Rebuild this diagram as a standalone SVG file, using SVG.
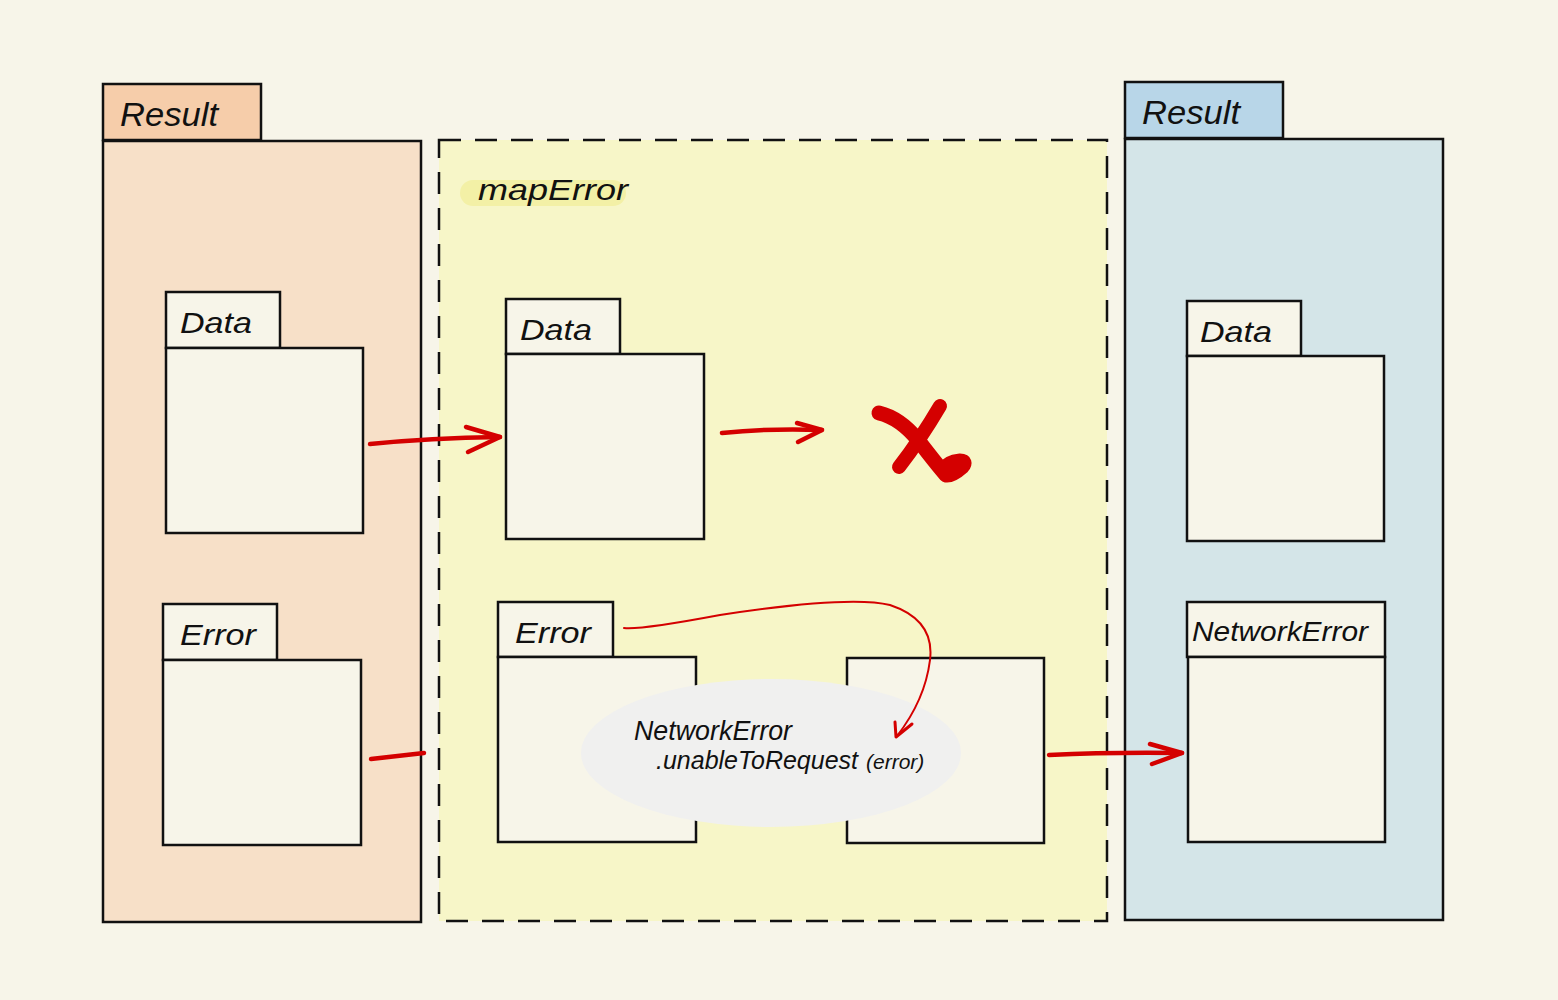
<svg xmlns="http://www.w3.org/2000/svg" width="1558" height="1000" viewBox="0 0 1558 1000">
<style>
.ln{stroke:#111;stroke-width:2.5;}
.box{fill:#f7f5e9;stroke:#111;stroke-width:2.5;}
.hw{font-family:"Liberation Sans",Arial,sans-serif;font-style:italic;fill:#111;}
.red{fill:none;stroke:#d40000;stroke-linecap:round;stroke-linejoin:round;}
</style>
<rect width="1558" height="1000" fill="#f7f5e9"/>

<g id="result-left">
<rect x="103" y="141" width="318" height="781" fill="#f7e0c8" class="ln"/>
<rect x="103" y="84" width="158" height="56" fill="#f6cdaa" class="ln"/>
<text class="hw" x="120" y="126" font-size="34" textLength="98" lengthAdjust="spacingAndGlyphs">Result</text>
</g>

<g id="maperror">
<rect x="439" y="140" width="668" height="781" fill="#f7f6c8" stroke="#111" stroke-width="2.5" stroke-dasharray="22,14"/>
<rect x="460" y="180" width="166" height="26" rx="13" fill="#f3f0a6"/>
<text class="hw" x="478" y="200" font-size="30" textLength="150" lengthAdjust="spacingAndGlyphs">mapError</text>
</g>

<g id="result-right">
<rect x="1125" y="139" width="318" height="781" fill="#d4e5e8" class="ln"/>
<rect x="1125" y="82" width="158" height="56" fill="#b8d6e8" class="ln"/>
<text class="hw" x="1142" y="124" font-size="34" textLength="98" lengthAdjust="spacingAndGlyphs">Result</text>
</g>

<g id="left-data">
<rect x="166" y="292" width="114" height="56" class="box"/>
<rect x="166" y="348" width="197" height="185" class="box"/>
<text class="hw" x="180" y="333" font-size="30" textLength="72" lengthAdjust="spacingAndGlyphs">Data</text>
</g>
<g id="left-error">
<rect x="163" y="604" width="114" height="56" class="box"/>
<rect x="163" y="660" width="198" height="185" class="box"/>
<text class="hw" x="180" y="645" font-size="30" textLength="76" lengthAdjust="spacingAndGlyphs">Error</text>
</g>

<g id="mid-data">
<rect x="506" y="299" width="114" height="55" class="box"/>
<rect x="506" y="354" width="198" height="185" class="box"/>
<text class="hw" x="520" y="340" font-size="30" textLength="72" lengthAdjust="spacingAndGlyphs">Data</text>
</g>
<g id="mid-error">
<rect x="498" y="602" width="115" height="55" class="box"/>
<rect x="498" y="657" width="198" height="185" class="box"/>
<text class="hw" x="515" y="643" font-size="30" textLength="76" lengthAdjust="spacingAndGlyphs">Error</text>
</g>
<g id="mid-result-box">
<rect x="847" y="658" width="197" height="185" class="box"/>
</g>
<g id="transform">
<ellipse cx="771" cy="753" rx="190" ry="74" fill="#f0f0ef"/>
<text class="hw" x="634" y="740" font-size="27" textLength="158" lengthAdjust="spacingAndGlyphs">NetworkError</text>
<text class="hw" x="656" y="769" font-size="25">.unableToRequest<tspan dx="8" font-size="21">(error)</tspan></text>
</g>

<g id="right-data">
<rect x="1187" y="301" width="114" height="55" class="box"/>
<rect x="1187" y="356" width="197" height="185" class="box"/>
<text class="hw" x="1200" y="342" font-size="30" textLength="72" lengthAdjust="spacingAndGlyphs">Data</text>
</g>
<g id="right-network-error">
<rect x="1187" y="602" width="198" height="55" class="box"/>
<rect x="1188" y="657" width="197" height="185" class="box"/>
<text class="hw" x="1192" y="641" font-size="27" textLength="176" lengthAdjust="spacingAndGlyphs">NetworkError</text>
</g>

<g id="connectors">
<path class="red" stroke-width="4.5" d="M370,444 Q430,438 500,437"/>
<path class="red" stroke-width="4.5" d="M466,427 L500,437 L468,452"/>
<path class="red" stroke-width="4.5" d="M722,433 Q770,428 822,430"/>
<path class="red" stroke-width="4.5" d="M797,423 L822,430 L798,442"/>
<path class="red" stroke-width="4.5" d="M371,759 L424,753"/>
<path class="red" stroke-width="4.5" d="M1049,755 Q1110,752 1182,753"/>
<path class="red" stroke-width="4.5" d="M1150,744 L1182,753 L1152,764"/>
<path class="red" stroke-width="2" d="M624,628 Q640,630 720,615 Q850,595 890,605 Q935,620 930,660 Q925,700 897,736"/>
<path class="red" stroke-width="3" d="M895,722 L896,737 L912,724"/>
<path class="red" stroke-width="15" d="M879,413 Q900,418 918,440 Q938,466 946,475 Q952,476 962,467 Q967,461 960,461 Q948,462 943,470"/>
<path class="red" stroke-width="14" d="M940,406 Q920,440 899,467"/>
</g>
</svg>
